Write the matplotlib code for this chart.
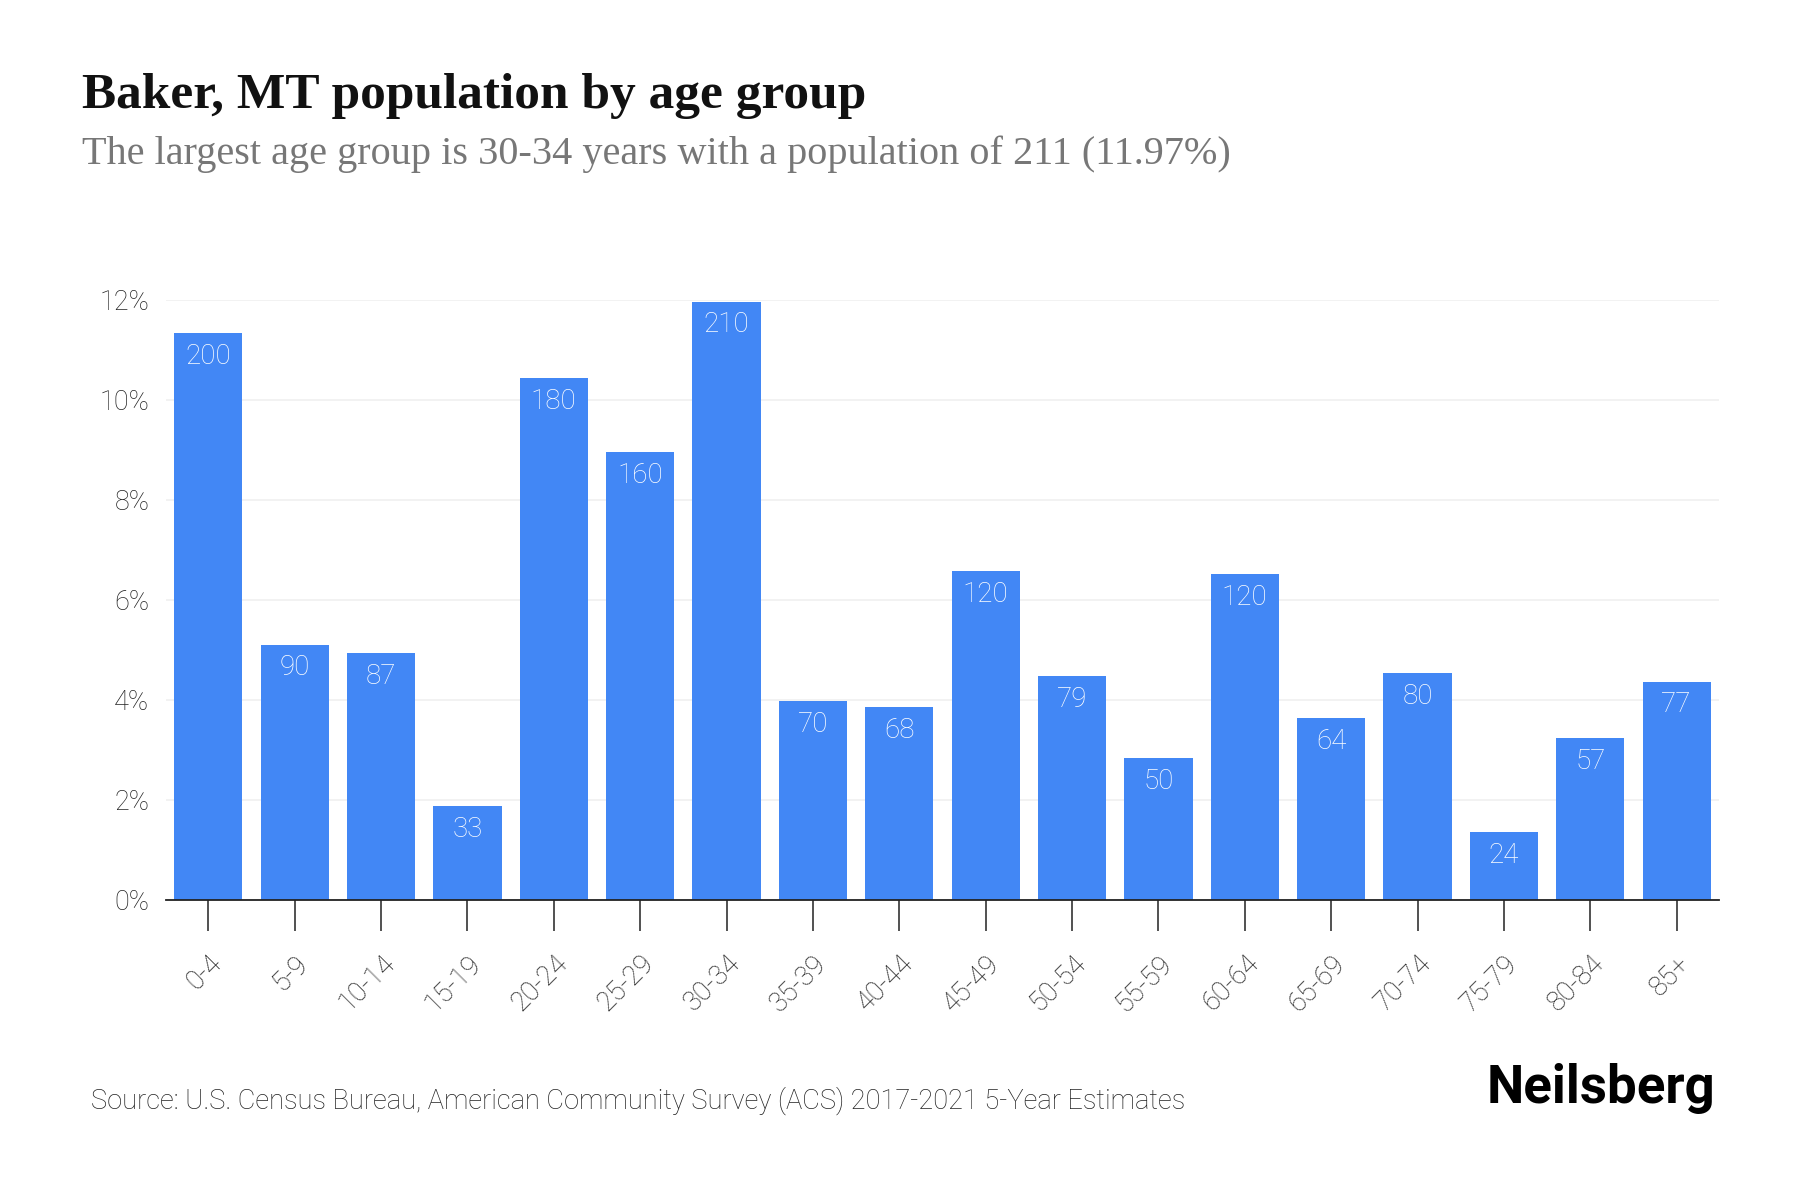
import matplotlib.pyplot as plt
import numpy as np

# Age groups and population estimates
age_groups = ['0-4', '5-9', '10-14', '15-19', '20-24', '25-29', '30-34', '35-39', '40-44',
              '45-49', '50-54', '55-59', '60-64', '65-69', '70-74', '75-79', '80-84', '85+']
population = [200, 90, 87, 33, 184, 158, 211, 70, 68, 116, 79, 50, 115, 64, 80, 24, 57, 77]
# Labels shown on the bars (rounded)
bar_labels = ['200', '90', '87', '33', '180', '160', '210', '70', '68',
              '120', '79', '50', '120', '64', '80', '24', '57', '77']
y_ticks = [0, 2, 4, 6, 8, 10, 12]

total = sum(population)
share = [p / total * 100 for p in population]

plt.rcParams['font.family'] = ['Roboto', 'DejaVu Sans']
serif = ['Liberation Serif', 'DejaVu Serif']

fig = plt.figure(figsize=(18, 12), dpi=100)
ax = fig.add_axes([0.0922, 0.25, 0.8628, 0.5])

x = np.arange(len(age_groups))
bars = ax.bar(x, share, width=0.79, color='#4287F5', zorder=3)

for rect, lab in zip(bars, bar_labels):
    ax.annotate(lab, (rect.get_x() + rect.get_width() / 2, rect.get_height()),
                xytext=(0, -7), textcoords='offset points', ha='center', va='top',
                color='white', fontsize=20, fontweight='light')

ax.set_xlim(-0.49, 17.49)
ax.set_ylim(0, 12)
ax.set_yticks(y_ticks)
ax.set_yticklabels([f'{t}%' for t in y_ticks], fontsize=19.5, fontweight='light', color='#222222')
ax.set_xticks(x)
ax.set_xticklabels(age_groups, rotation=45, ha='right', rotation_mode='anchor',
                   fontsize=19.5, fontweight='light', color='#222222')
ax.tick_params(axis='x', length=22, width=1.2, color='#333333', pad=14)
ax.tick_params(axis='y', length=0, pad=12)

ax.grid(axis='y', color='#f0f0f0', linewidth=1.2, zorder=0)
for s in ['top', 'right', 'left']:
    ax.spines[s].set_visible(False)
ax.spines['bottom'].set_color('#222222')
ax.spines['bottom'].set_linewidth(1.3)
ax.spines['bottom'].set_zorder(4)

fig.text(0.0455, 0.91, 'Baker, MT population by age group', fontsize=37,
         fontweight='bold', family=serif, color='#111111', va='baseline')
fig.text(0.0455, 0.863, 'The largest age group is 30-34 years with a population of 211 (11.97%)',
         fontsize=29, family=serif, color='#777777', va='baseline')

fig.text(0.0505, 0.083, 'Source: U.S. Census Bureau, American Community Survey (ACS) 2017-2021 5-Year Estimates',
         fontsize=19.6, fontweight='light', color='#222222', va='center')
fig.text(0.953, 0.093, 'Neilsberg', fontsize=38, fontweight='bold', color='#000000',
         ha='right', va='center')

fig.savefig('out.png', dpi=100, facecolor='white')
